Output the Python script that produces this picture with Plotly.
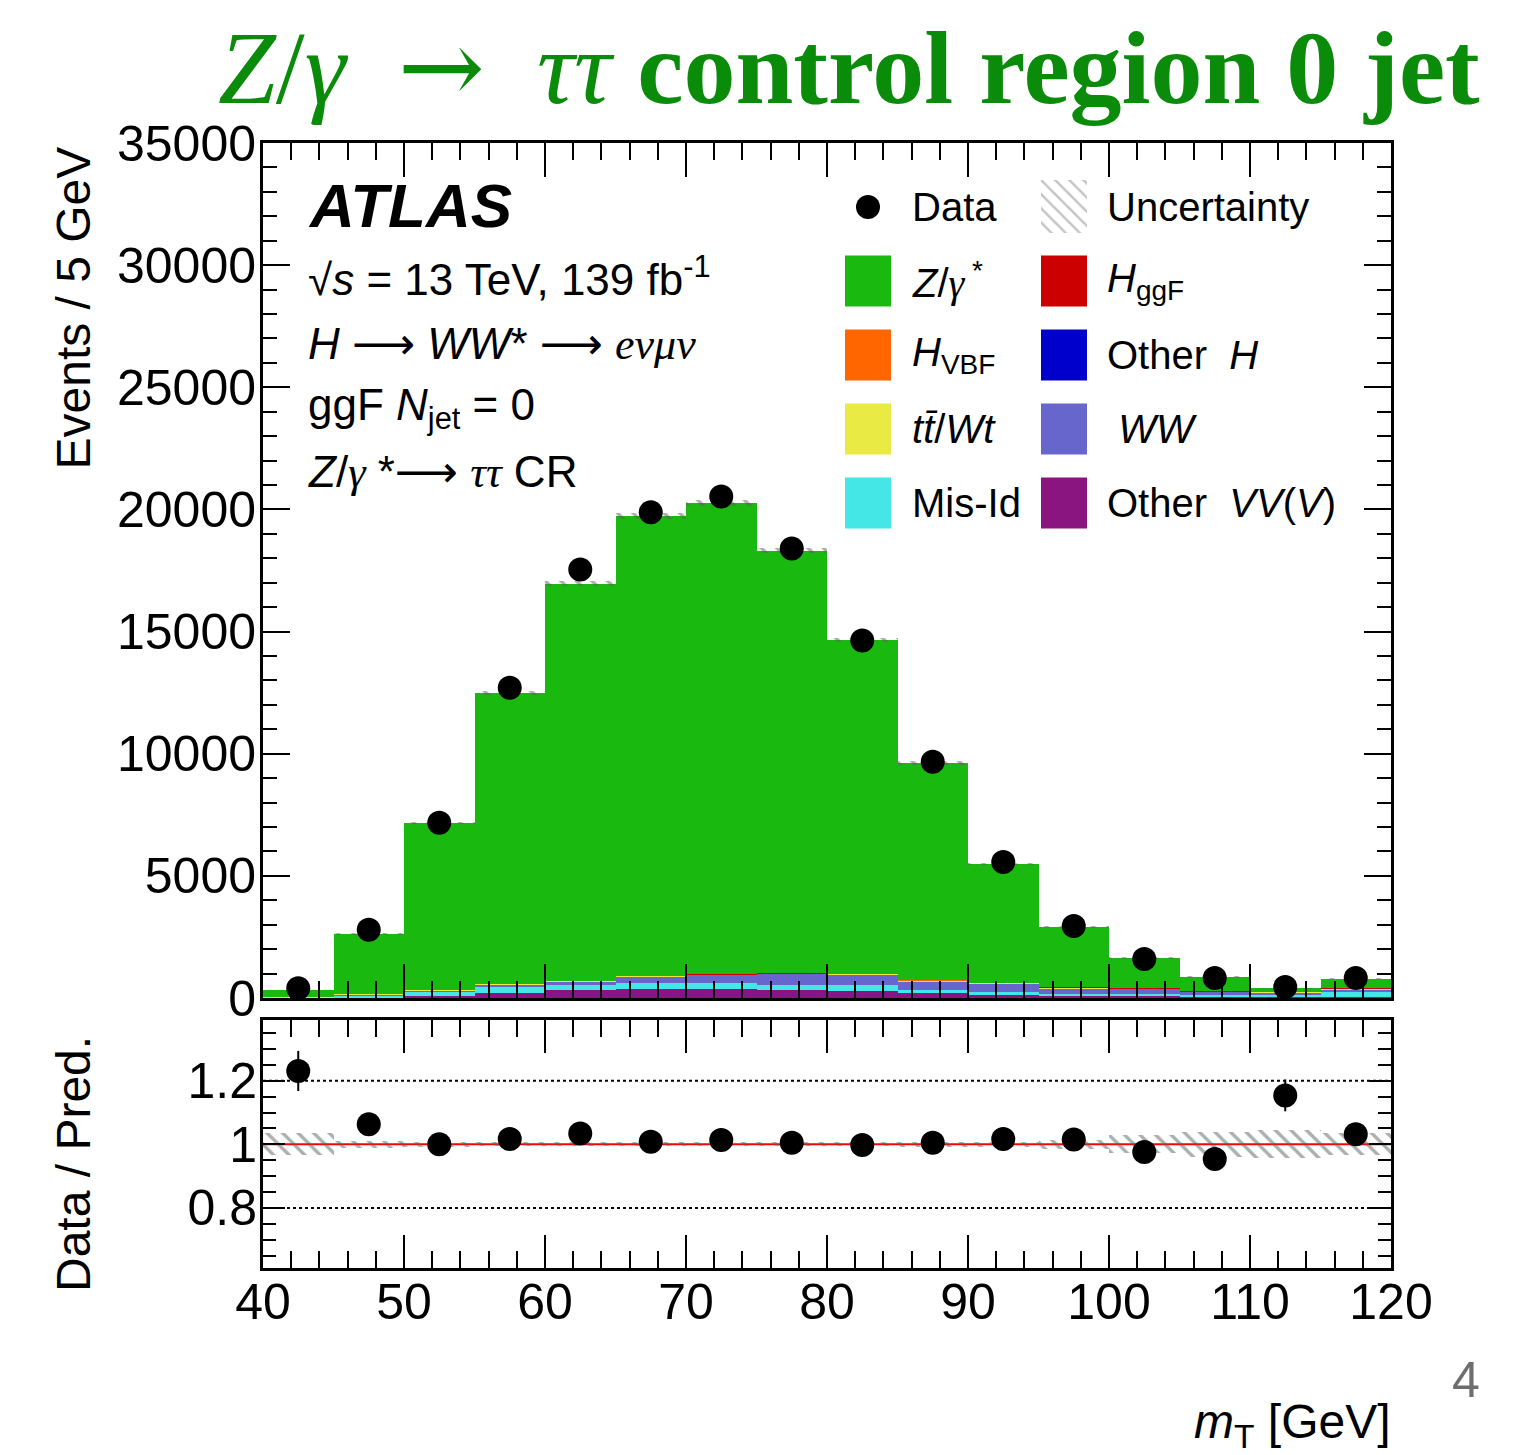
import plotly.graph_objects as go

W, H = 1538, 1455

# ---- binned data: m_T in 5 GeV bins from 40 to 120 GeV ----
bin_centers = [42.5, 47.5, 52.5, 57.5, 62.5, 67.5, 72.5, 77.5,
               82.5, 87.5, 92.5, 97.5, 102.5, 107.5, 112.5, 117.5]
data_counts = [400, 2790, 7170, 12700, 17540, 19880, 20530, 18400,
               14630, 9670, 5570, 2950, 1600, 820, 450, 815]

# background / signal components (events per bin)
other_vv = [5, 40, 95, 205, 315, 380, 380, 315, 270, 205, 110, 70, 70, 50, 40, 55]
mis_id = [10, 60, 135, 230, 205, 230, 230, 230, 270, 135, 135, 110, 100, 80, 90, 200]
ww = [5, 60, 95, 135, 165, 275, 340, 440, 410, 355, 340, 220, 200, 120, 110, 100]
ttbar_wt = [2, 4, 8, 12, 15, 20, 25, 35, 40, 40, 38, 35, 38, 30, 25, 48]
other_h = [0, 0, 0, 0, 0, 1, 1, 1, 1, 1, 1, 1, 0, 0, 0, 0]
h_vbf = [0, 0, 0, 0, 1, 1, 1, 1, 1, 1, 1, 1, 0, 0, 0, 0]
h_ggf = [0, 0, 1, 1, 1, 2, 2, 3, 3, 3, 3, 2, 2, 1, 1, 1]
z_gamma = [303, 2461, 6836, 11907, 16258, 18811, 19271, 17285,
           13665, 8880, 4852, 2466, 1230, 579, 124, 386]

# relative systematic uncertainty on the prediction, and stat. error on ratio
unc_rel = [0.035, 0.010, 0.007, 0.006, 0.006, 0.006, 0.006, 0.006,
           0.006, 0.007, 0.008, 0.015, 0.028, 0.040, 0.044, 0.035]
ratio_err = [0.063, 0.020, 0.012, 0.009, 0.008, 0.007, 0.007, 0.007,
             0.008, 0.010, 0.014, 0.020, 0.025, 0.035, 0.050, 0.035]

# stack order from bottom to top, with colours
stack = [
    ("Other VV(V)", other_vv, "#8A1480"),
    ("Mis-Id", mis_id, "#44E6E6"),
    ("WW", ww, "#6666CC"),
    ("tt/Wt", ttbar_wt, "#EAEA45"),
    ("Other H", other_h, "#0000CC"),
    ("H_VBF", h_vbf, "#FF6600"),
    ("H_ggF", h_ggf, "#CC0000"),
    ("Z/gamma*", z_gamma, "#19B910"),
]

FONT = "Liberation Sans"
HATCH = "#5c5c5c"


def px(x):
    return x / W


def py(y):
    return 1 - y / H


def greek(s):
    return '<span style="font-family:Liberation Serif">' + s + "</span>"


ARROW = '<span style="font-family:DejaVu Sans">⟶</span>'
TITLE_ARROW = '<span style="font-family:DejaVu Serif">→</span>'

fig = go.Figure()

base = [0.0] * len(bin_centers)
for name, vals, col in stack:
    fig.add_trace(go.Bar(
        x=bin_centers, y=vals, base=list(base), width=5,
        marker=dict(color=col, line=dict(width=0)),
        name=name, showlegend=False, xaxis="x", yaxis="y"))
    base = [b + v for b, v in zip(base, vals)]
total = base

hatch = dict(color="rgba(0,0,0,0)", line=dict(width=0),
             pattern=dict(shape="\\", fgcolor=HATCH, bgcolor="rgba(0,0,0,0)",
                          size=11, solidity=0.3))

# uncertainty hatch on top of the stack
fig.add_trace(go.Bar(
    x=bin_centers,
    y=[2 * t * r for t, r in zip(total, unc_rel)],
    base=[t * (1 - r) for t, r in zip(total, unc_rel)],
    width=5, marker=hatch, showlegend=False, xaxis="x", yaxis="y"))

# data points
fig.add_trace(go.Scatter(
    x=bin_centers, y=data_counts, mode="markers",
    marker=dict(color="black", size=24),
    showlegend=False, xaxis="x", yaxis="y"))

# ratio panel
ratio = [d / t for d, t in zip(data_counts, total)]
fig.add_trace(go.Bar(
    x=bin_centers, y=[2 * r for r in unc_rel], base=[1 - r for r in unc_rel],
    width=5, marker=hatch, showlegend=False, xaxis="x2", yaxis="y2"))
fig.add_trace(go.Scatter(
    x=bin_centers, y=ratio, mode="markers",
    marker=dict(color="black", size=24),
    error_y=dict(type="data", array=ratio_err, color="black", thickness=2, width=0),
    showlegend=False, xaxis="x2", yaxis="y2"))

# hatched swatch for the legend entry "Uncertainty"
fig.add_trace(go.Bar(
    x=[0.5], y=[1], base=[0], width=1,
    marker=dict(color="rgba(0,0,0,0)", line=dict(width=0),
                pattern=dict(shape="\\", fgcolor="#8a8a8a", bgcolor="rgba(0,0,0,0)",
                             size=10, solidity=0.25)),
    showlegend=False, xaxis="x3", yaxis="y3"))

XDOM = [px(263), px(1391)]
tickfont = dict(family=FONT, size=50, color="black")
common_x = dict(range=[40, 120], domain=XDOM, showline=True, linewidth=3,
                linecolor="black", mirror="allticks", ticks="inside",
                tickwidth=2, tickcolor="black", dtick=10, tick0=40,
                showgrid=False, zeroline=False, automargin=False,
                minor=dict(ticks="inside", dtick=2, ticklen=17, tickwidth=2,
                           tickcolor="black", showgrid=False))

fig.update_layout(
    width=W, height=H,
    margin=dict(l=0, r=0, t=0, b=0, pad=0, autoexpand=False),
    paper_bgcolor="white", plot_bgcolor="white",
    barmode="overlay", bargap=0, showlegend=False,
    xaxis=dict(**common_x, anchor="y", showticklabels=False, ticklen=34,
               matches="x2"),
    yaxis=dict(domain=[py(998), py(143)], range=[0, 35000], anchor="x",
               showline=True, linewidth=3, linecolor="black",
               mirror="allticks", ticks="inside", ticklen=27, tickwidth=2,
               tickcolor="black", dtick=5000, tickformat="d",
               showgrid=False, zeroline=False, tickfont=tickfont,
               automargin=False, ticklabelstandoff=-6,
               minor=dict(ticks="inside", dtick=1000, ticklen=14,
                          tickwidth=2, tickcolor="black", showgrid=False)),
    xaxis2=dict(**common_x, anchor="y2", ticklen=33, tickfont=tickfont,
                ticklabelstandoff=-12),
    yaxis2=dict(domain=[py(1268), py(1020)], range=[0.611, 1.391], anchor="x2",
                showline=True, linewidth=3, linecolor="black",
                mirror="allticks", ticks="inside", ticklen=22, tickwidth=2,
                tickcolor="black", tickvals=[0.8, 1.0, 1.2],
                ticktext=["0.8", "1", "1.2"],
                showgrid=False, zeroline=False, tickfont=tickfont,
                automargin=False, ticklabelstandoff=-7,
                minor=dict(ticks="inside", dtick=0.05, tick0=0.6, ticklen=13,
                           tickwidth=2, tickcolor="black", showgrid=False)),
    xaxis3=dict(domain=[px(1041), px(1087)], range=[0, 1], anchor="y3",
                visible=False, fixedrange=True, automargin=False),
    yaxis3=dict(domain=[py(233), py(180)], range=[0, 1], anchor="x3",
                visible=False, fixedrange=True, automargin=False),
)

shapes = []
# reference lines in the ratio panel
shapes.append(dict(type="line", xref="x2", yref="y2", x0=40, x1=120, y0=1.2, y1=1.2,
                   line=dict(color="black", width=2, dash="dot"), layer="below"))
shapes.append(dict(type="line", xref="x2", yref="y2", x0=40, x1=120, y0=0.8, y1=0.8,
                   line=dict(color="black", width=2, dash="dot"), layer="below"))
shapes.append(dict(type="line", xref="x2", yref="y2", x0=40, x1=120, y0=1.0, y1=1.0,
                   line=dict(color="#ff0000", width=2), layer="below"))

# legend swatches
col1_x, col2_x, sw, sh = 845, 1041, 46, 51
rows_y = [207, 281, 355, 429, 503]
legend_left = [
    (rows_y[1], "#19B910", "<i>Z</i>/" + greek("<i>γ</i>") + "<sup> *</sup>"),
    (rows_y[2], "#FF6600", "<i>H</i><sub>VBF</sub>"),
    (rows_y[3], "#EAEA45", "<i>t</i><i>t̄</i>/<i>Wt</i>"),
    (rows_y[4], "#44E6E6", "Mis-Id"),
]
legend_right = [
    (rows_y[1], "#CC0000", "<i>H</i><sub>ggF</sub>"),
    (rows_y[2], "#0000CC", "Other  <i>H</i>"),
    (rows_y[3], "#6666CC", " <i>WW</i>"),
    (rows_y[4], "#8A1480", "Other  <i>VV</i>(<i>V</i>)"),
]
for x0, entries in ((col1_x, legend_left), (col2_x, legend_right)):
    for yc, col, _ in entries:
        shapes.append(dict(type="rect", xref="paper", yref="paper",
                           x0=px(x0), x1=px(x0 + sw),
                           y0=py(yc + sh / 2), y1=py(yc - sh / 2),
                           fillcolor=col, line=dict(width=0)))
shapes.append(dict(type="circle", xref="paper", yref="paper",
                   x0=px(856), x1=px(880), y0=py(rows_y[0] + 12), y1=py(rows_y[0] - 12),
                   fillcolor="black", line=dict(width=0)))
fig.update_layout(shapes=shapes)

annotations = []


def text(x, y, s, size, xanchor="left", yanchor="middle", color="black",
         family=FONT, angle=0):
    annotations.append(dict(x=px(x), y=py(y), xref="paper", yref="paper",
                            text=s, showarrow=False, xanchor=xanchor,
                            yanchor=yanchor, textangle=angle,
                            font=dict(family=family, size=size, color=color)))


for entries, tx in ((legend_left, 910), (legend_right, 1105)):
    for yc, _, label in entries:
        text(tx, yc, label, 40)
text(910, rows_y[0], "Data", 40)
text(1105, rows_y[0], "Uncertainty", 40)

# experiment label block
text(306, 206, "<b><i>ATLAS</i></b>", 62)
text(306, 276, "√<i>s</i> = 13 TeV, 139 fb<sup>-1</sup>", 44)
text(306, 343, "<i>H</i> " + ARROW + " <i>WW</i>* " + ARROW + " " + greek("<i>eνμν</i>"), 44)
text(306, 408, "ggF <i>N</i><sub>jet</sub> = 0", 44)
text(306, 472, "<i>Z</i>/" + greek("<i>γ</i>") + " *" + ARROW + " " + greek("<i>ττ</i>") + " CR", 44)

# axis titles
text(73, 145, "Events / 5 GeV", 48, xanchor="center", yanchor="top", angle=-90)
text(73, 1034, "Data / Pred.", 48, xanchor="center", yanchor="top", angle=-90)
text(1393, 1425, "<i>m</i><sub>T</sub> [GeV]", 48, xanchor="right")

# slide title and page number
text(1482, 67,
     "<i>Z</i>/<i>γ</i>\u2002" + TITLE_ARROW + "\u2002<i>ττ</i> <b>control region 0 jet</b>",
     104, xanchor="right", color="#0A8C0A", family="Liberation Serif")
text(1466, 1380, "4", 50, xanchor="center", color="#6e6e6e")

fig.update_layout(annotations=annotations)

fig.write_html("out.html")
